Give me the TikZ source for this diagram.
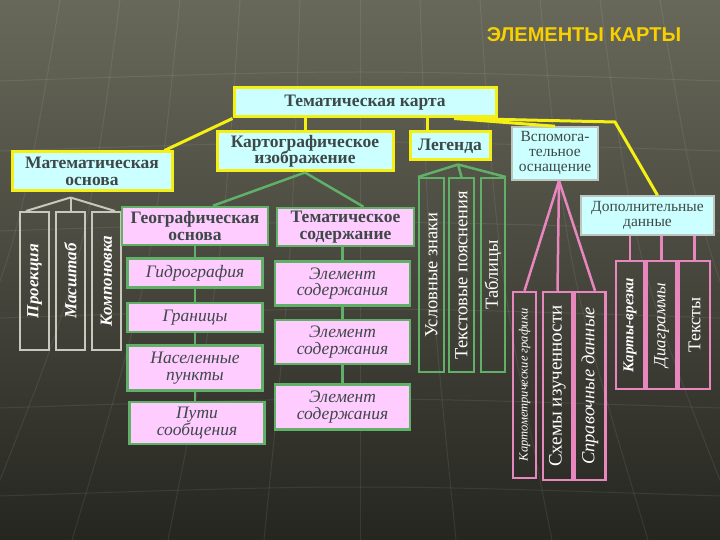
\documentclass[tikz,border=0pt]{standalone}
\usepackage{fontspec}
\setmainfont{Liberation Serif}
\setsansfont{Liberation Sans}
\usepackage{graphicx}
\usetikzlibrary{positioning}
\definecolor{bgtop}{RGB}{104,104,90}
\definecolor{bgbottom}{RGB}{38,38,33}
\definecolor{cardyellow}{RGB}{245,240,20}
\definecolor{cardcyan}{RGB}{204,255,255}
\definecolor{geopink}{RGB}{255,204,255}
\definecolor{geogreen}{RGB}{96,176,104}
\definecolor{auxpink}{RGB}{232,134,190}
\definecolor{auxgray}{RGB}{190,196,190}
\definecolor{stripgray}{RGB}{200,200,188}
\definecolor{boxtext}{RGB}{62,72,72}
\definecolor{titlegold}{RGB}{248,208,0}

\begin{document}
\begin{tikzpicture}[x=1pt,y=-1pt,
  every node/.style={inner sep=1pt,align=center,text=boxtext,font=\bfseries\fontsize{17.5}{16.5}\selectfont},
  topbox/.style={draw=cardyellow,line width=3pt,fill=cardcyan},
  auxbox/.style={draw=auxgray,line width=1.5pt,fill=cardcyan,font=\fontsize{15.5}{15}\selectfont},
  geobox/.style={draw=geogreen,line width=2.5pt,fill=geopink},
  itembox/.style={geobox,font=\itshape\fontsize{17.5}{16.5}\selectfont},
  mathstrip/.style={draw=stripgray,line width=2pt,text=white,font=\bfseries\itshape\fontsize{17}{17}\selectfont},
  legstrip/.style={draw=geogreen,line width=2pt,text=white,font=\fontsize{18.5}{18}\selectfont},
  auxstrip/.style={draw=auxpink,line width=2.5pt,text=white,font=\fontsize{19}{19}\selectfont},
  yline/.style={draw=cardyellow,line width=3pt},
  gline/.style={draw=geogreen,line width=2.5pt},
  pline/.style={draw=auxpink,line width=2.5pt},
  sline/.style={draw=stripgray,line width=2pt},
  gridline/.style={draw=white,opacity=0.08,line width=1pt}]
\useasboundingbox (0,0) rectangle (720,540);
\shade[top color=bgtop,bottom color=bgbottom] (0,0) rectangle (720,540);
\foreach \h in {75,145,225,312,402,490}
  \draw[gridline] (0,\h+6) .. controls (360,\h-6) .. (720,\h+6);
\foreach \t in {0,60,...,720}
  \draw[gridline] (\t,0) .. controls ({360+(\t-360)*1.15},270) .. ({360+(\t-360)*1.6},540);

\node[font=\sffamily\bfseries\fontsize{20}{20}\selectfont,text=titlegold] (title) at (584,35) {ЭЛЕМЕНТЫ КАРТЫ};

\node[topbox,minimum width=262pt,minimum height=29pt] (map) at (365,102.5) {Тематическая карта};
\node[topbox,minimum width=160pt,minimum height=39pt] (math) at (92,171.5) {Математическая\\основа};
\node[topbox,minimum width=176pt,minimum height=39pt] (image) at (305,151.5) {Картографическое\\изображение};
\node[topbox,minimum width=80pt,minimum height=28pt] (legend) at (450,146) {Легенда};
\node[auxbox,minimum width=86pt,minimum height=53pt] (aux) at (555,153.5) {Вспомога-\\тельное\\оснащение};
\node[auxbox,minimum width=133pt,minimum height=39pt] (extra) at (647.5,215.5) {Дополнительные\\данные};

\node[mathstrip,minimum width=29pt,minimum height=138pt] (proj) at (34.5,281) {\rotatebox{90}{Проекция}};
\node[mathstrip,minimum width=29pt,minimum height=138pt,right=5pt of proj] (scale) {\rotatebox{90}{Масштаб}};
\node[mathstrip,minimum width=29pt,minimum height=138pt,right=5pt of scale] (layout) {\rotatebox{90}{Компоновка}};

\node[geobox,minimum width=146pt,minimum height=38pt] (geo) at (195,226) {Географическая\\основа};
\node[itembox,minimum width=135pt,minimum height=29pt,below=11pt of geo] (hydro) {Гидрография};
\node[itembox,minimum width=135pt,minimum height=29pt,below=13pt of hydro] (borders) {Границы};
\node[itembox,minimum width=135pt,minimum height=45pt,below=11pt of borders] (towns) {Населенные\\пункты};
\node[itembox,minimum width=135pt,minimum height=42pt,below=9pt of towns,xshift=2pt] (roads) {Пути\\сообщения};

\node[geobox,minimum width=137pt,minimum height=38pt] (theme) at (345.5,227) {Тематическое\\содержание};
\node[itembox,minimum width=135pt,minimum height=44pt,below=13pt of theme,xshift=-3pt] (elemA) {Элемент\\содержания};
\node[itembox,minimum width=135pt,minimum height=44pt,below=12pt of elemA] (elemB) {Элемент\\содержания};
\node[itembox,minimum width=135pt,minimum height=45pt,below=18pt of elemB] (elemC) {Элемент\\содержания};

\node[legstrip,minimum width=25pt,minimum height=194pt] (signs) at (431.5,275) {\rotatebox{90}{Условные знаки}};
\node[legstrip,minimum width=25pt,minimum height=194pt,right=3pt of signs] (notes) {\rotatebox{90}{Текстовые пояснения}};
\node[legstrip,minimum width=24pt,minimum height=194pt,right=5pt of notes] (tables) {\rotatebox{90}{Таблицы}};

\node[auxstrip,minimum width=23pt,minimum height=186pt,font=\itshape\fontsize{12.5}{12.5}\selectfont] (graphs) at (524.5,385) {\rotatebox{90}{Картометрические графики}};
\node[auxstrip,minimum width=29pt,minimum height=188pt] (schemes) at (557.5,386) {\rotatebox{90}{Схемы изученности}};
\node[auxstrip,minimum width=31pt,minimum height=188pt,right=0pt of schemes,font=\itshape\fontsize{18.5}{18.5}\selectfont] (refdata) {\rotatebox{90}{Справочные данные}};

\node[auxstrip,minimum width=28pt,minimum height=128pt,font=\bfseries\itshape\fontsize{15}{15}\selectfont] (insets) at (630,325) {\rotatebox{90}{Карты-врезки}};
\node[auxstrip,minimum width=30pt,minimum height=128pt,right=0pt of insets,font=\itshape\fontsize{17}{17}\selectfont] (charts) {\rotatebox{90}{Диаграммы}};
\node[auxstrip,minimum width=31pt,minimum height=128pt,right=0pt of charts,font=\fontsize{18}{18}\selectfont] (texts) {\rotatebox{90}{Тексты}};

\coordinate (mathfork) at ([yshift=-5pt]math.south -| scale.north);
\coordinate (legfork) at ([xshift=8pt,yshift=-3pt]legend.south);
\coordinate (auxfork) at ([xshift=4pt]aux.south);
\coordinate (extrabend) at (615,122);

\path[yline] (map.south west) -- ([xshift=-9pt]math.north east);
\path[yline] (image.north |- map.south) -- (image.north);
\path[yline] ([xshift=-23pt]legend.north |- map.south) -- ([xshift=-23pt]legend.north);
\path[yline] ([xshift=89pt]map.south) -- (aux.north);
\path[yline] ([xshift=95pt]map.south) -- (extrabend) -- ([xshift=10pt]extra.north);

\path[sline] (mathfork) -- ([xshift=7pt]proj.north west);
\path[sline] (mathfork) -- (scale.north);
\path[sline] (mathfork) -- ([xshift=-7pt]layout.north east);

\path[gline] (image.south) -- ([xshift=18pt]geo.north);
\path[gline] (image.south) -- ([xshift=18pt]theme.north);
\path[gline] (geo.south) -- (geo.south |- hydro.north);
\path[gline] (hydro.south) -- (hydro.south |- borders.north);
\path[gline] (borders.south) -- (borders.south |- towns.north);
\path[gline] (towns.south) -- (towns.south |- roads.north);
\path[gline] (elemA.north |- theme.south) -- (elemA.north);
\path[gline] (elemA.south) -- (elemB.north);
\path[gline] (elemB.south) -- (elemC.north);

\path[gline] (legfork) -- (signs.north west);
\path[gline] (legfork) -- (notes.north);
\path[gline] (legfork) -- (tables.north east);

\path[pline] (auxfork) -- (graphs.north);
\path[pline] (auxfork) -- (schemes.north);
\path[pline] (auxfork) -- ([xshift=5pt]refdata.north);
\path[pline] (insets.north |- extra.south) -- (insets.north);
\path[pline] (charts.north |- extra.south) -- (charts.north);
\path[pline] (texts.north |- extra.south) -- (texts.north);
\end{tikzpicture}
\end{document}
